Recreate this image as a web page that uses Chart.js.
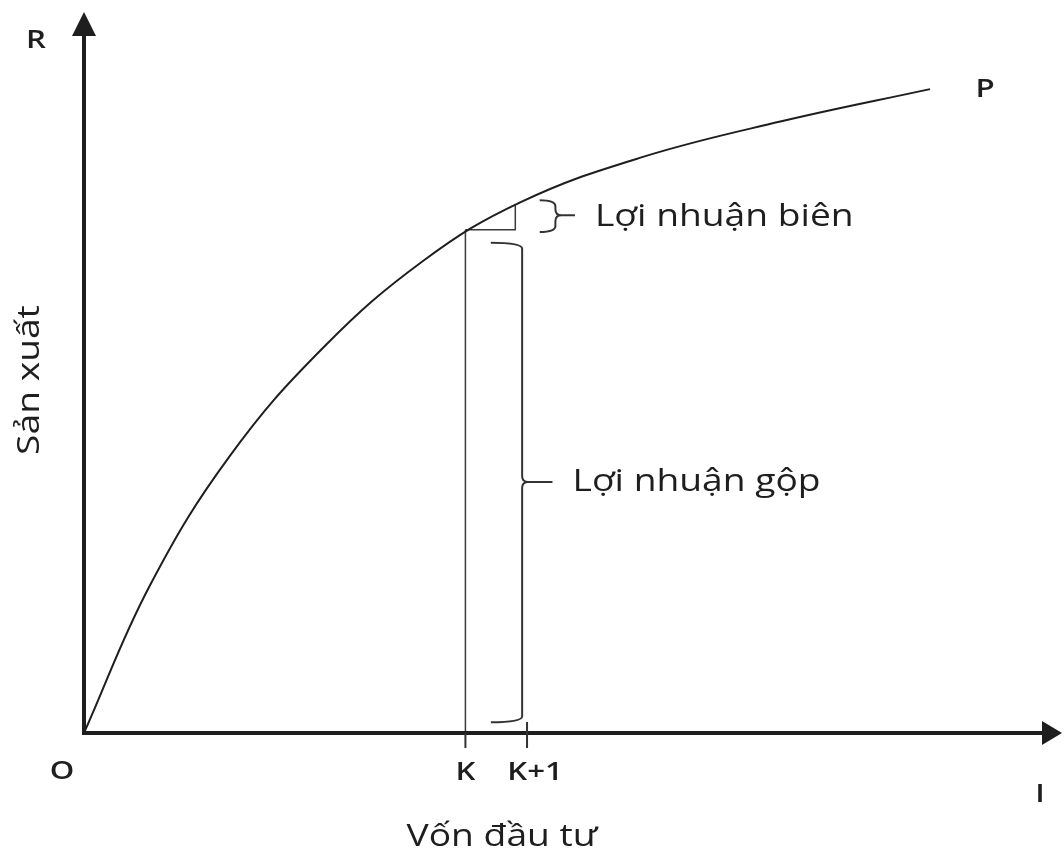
<!DOCTYPE html>
<html>
<head>
<meta charset="utf-8">
<script src="https://cdn.jsdelivr.net/npm/chart.js@4.4.0/dist/chart.umd.min.js"></script>
<style>
  html, body { margin: 0; padding: 0; background: #fff; }
  canvas { display: block; }
</style>
</head>
<body>
<canvas id="chart" width="1064" height="854"></canvas>
<script>
// production curve (arbitrary units, 0..100 on both axes)
const capital = [0, 6.75, 14.9, 24.5, 34.8, 44.6, 56.9, 71.2, 86.5];
const output = [0, 20.5, 38.4, 53.5, 65.6, 73.6, 79.8, 84.8, 89.3];

// x axis ticks
const tickValues = [39.0, 45.3];
const tickLabels = ['K', 'K+1'];

// vertical at K and the small step to K+1
const kLineX = [39.0, 39.0];
const kLineY = [0, 69.8];
const stepX = [39.0, 44.1, 44.1];
const stepY = [69.8, 69.8, 73.2];

// braces: left end, spine, tip, top, middle, bottom (data units)
const marginalBrace = [46.6, 48.2, 50.2, 73.9, 71.8, 69.5];
const grossBrace = [41.6, 44.8, 47.9, 68.0, 34.8, 1.5];
const marginalLabel = 'Lợi nhuận biên';
const grossLabel = 'Lợi nhuận gộp';

const xTitle = 'Vốn đầu tư';
const yTitle = 'Sản xuất';

const ink = '#1e1e1e';
const font = '"Open Sans", "DejaVu Sans", sans-serif';
const textFont = '400 31px ' + font;
const letterFont = '600 26px ' + font;
const stretch = 1.2;

function pts(xs, ys) {
  return xs.map((x, i) => ({ x: x, y: ys[i] }));
}

// text slightly widened, like the scanned figure
function say(ctx, text, x, y, rot) {
  ctx.save();
  ctx.translate(x, y);
  if (rot) ctx.rotate(rot);
  ctx.scale(stretch, 1);
  ctx.fillText(text, 0, 0);
  ctx.restore();
}

function drawBrace(ctx, xs, ys, b) {
  const l = xs.getPixelForValue(b[0]);
  const s = xs.getPixelForValue(b[1]);
  const t = xs.getPixelForValue(b[2]);
  const top = ys.getPixelForValue(b[3]);
  const mid = ys.getPixelForValue(b[4]);
  const bot = ys.getPixelForValue(b[5]);
  const r = Math.min(6, (bot - top) / 4);
  ctx.beginPath();
  ctx.moveTo(l, top);
  ctx.quadraticCurveTo(s, top, s, top + r);
  ctx.lineTo(s, mid - r);
  ctx.quadraticCurveTo(s, mid, s + r, mid);
  ctx.lineTo(t, mid);
  ctx.moveTo(s + r, mid);
  ctx.quadraticCurveTo(s, mid, s, mid + r);
  ctx.lineTo(s, bot - r);
  ctx.quadraticCurveTo(s, bot, l, bot);
  ctx.stroke();
}

const sketch = {
  id: 'sketch',
  afterDatasetsDraw(chart) {
    const ctx = chart.ctx;
    const a = chart.chartArea;
    const xs = chart.scales.x;
    const ys = chart.scales.y;
    const x0 = xs.getPixelForValue(0);
    const y0 = ys.getPixelForValue(0);
    ctx.save();

    // axes with arrows
    ctx.strokeStyle = ink;
    ctx.fillStyle = ink;
    ctx.lineWidth = 4;
    ctx.beginPath();
    ctx.moveTo(x0, y0 + 2);
    ctx.lineTo(x0, a.top + 20);
    ctx.moveTo(x0 - 2, y0);
    ctx.lineTo(a.right - 18, y0);
    ctx.stroke();
    ctx.beginPath();
    ctx.moveTo(x0, a.top);
    ctx.lineTo(x0 - 12, a.top + 24);
    ctx.lineTo(x0 + 12, a.top + 24);
    ctx.closePath();
    ctx.fill();
    ctx.beginPath();
    ctx.moveTo(a.right, y0);
    ctx.lineTo(a.right - 20, y0 - 12);
    ctx.lineTo(a.right - 20, y0 + 12);
    ctx.closePath();
    ctx.fill();

    // tick marks and labels
    ctx.lineWidth = 2;
    ctx.strokeStyle = '#333';
    ctx.font = letterFont;
    ctx.textAlign = 'center';
    ctx.textBaseline = 'middle';
    tickValues.forEach((v, i) => {
      const px = xs.getPixelForValue(v);
      ctx.beginPath();
      ctx.moveTo(px, y0 - (i === 0 ? 0 : 11));
      ctx.lineTo(px, y0 + 15);
      ctx.stroke();
      say(ctx, tickLabels[i], px + (i === 0 ? 0 : 8), y0 + 40);
    });

    // letters at the ends of the axes
    say(ctx, 'R', x0 - 48, a.top + 29);
    say(ctx, 'O', x0 - 22, y0 + 39);
    say(ctx, 'I', a.right - 22, y0 + 62);
    say(ctx, 'P', xs.getPixelForValue(capital[capital.length - 1]) + 55, ys.getPixelForValue(output[output.length - 1]));

    // axis titles
    ctx.font = textFont;
    say(ctx, xTitle, 502, y0 + 104);
    say(ctx, yTitle, 30, 380, -Math.PI / 2);

    // braces and their labels
    ctx.strokeStyle = '#333';
    ctx.lineWidth = 2;
    drawBrace(ctx, xs, ys, marginalBrace);
    drawBrace(ctx, xs, ys, grossBrace);
    ctx.textAlign = 'left';
    say(ctx, marginalLabel, xs.getPixelForValue(marginalBrace[2]) + 20, ys.getPixelForValue(marginalBrace[4]) + 2);
    say(ctx, grossLabel, xs.getPixelForValue(grossBrace[2]) + 20, ys.getPixelForValue(grossBrace[4]));

    ctx.restore();
  }
};

new Chart(document.getElementById('chart').getContext('2d'), {
  type: 'line',
  data: {
    datasets: [
      {
        data: pts(capital, output),
        borderColor: ink,
        borderWidth: 2,
        pointRadius: 0,
        tension: 0.4,
        fill: false
      },
      {
        data: pts(kLineX, kLineY),
        borderColor: '#3a3a3a',
        borderWidth: 1.5,
        pointRadius: 0,
        fill: false
      },
      {
        data: pts(stepX, stepY),
        borderColor: '#3a3a3a',
        borderWidth: 1.5,
        pointRadius: 0,
        fill: false
      }
    ]
  },
  options: {
    responsive: false,
    animation: false,
    layout: { padding: { left: 84, right: 2, top: 12, bottom: 121 } },
    plugins: { legend: { display: false }, tooltip: { enabled: false } },
    scales: {
      x: { type: 'linear', min: 0, max: 100, display: false },
      y: { type: 'linear', min: 0, max: 100, display: false }
    }
  },
  plugins: [sketch]
});
</script>
</body>
</html>
